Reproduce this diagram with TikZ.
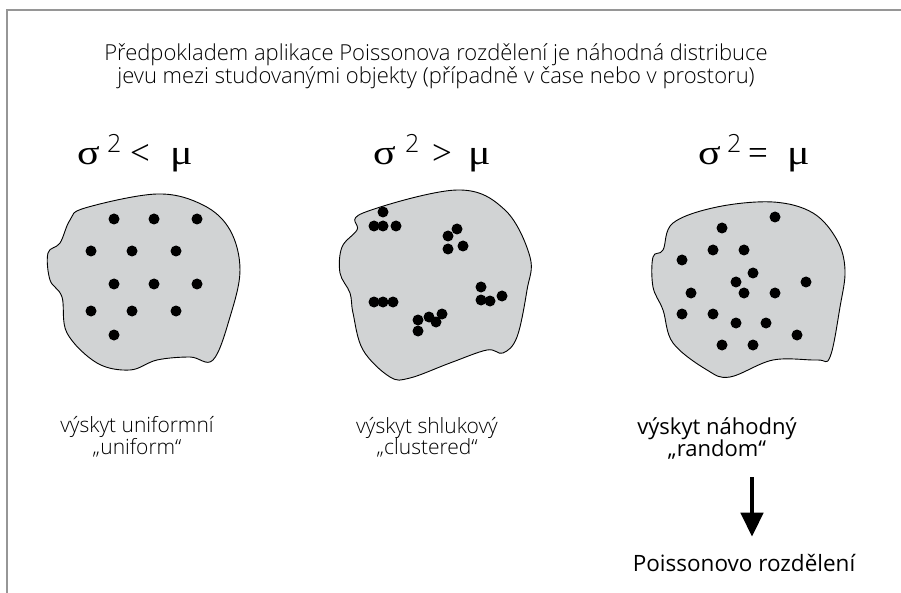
\documentclass[tikz,border=0pt]{standalone}
\usepackage{graphicx}
\usepackage{fontspec}
\setmainfont{Open Sans}
\IfFontExistsTF{Open Sans Light}{\newfontfamily\lightfont{Open Sans Light}}{\newfontfamily\lightfont{Open Sans}}
\newfontfamily\greekfont{Liberation Serif}
\usetikzlibrary{arrows.meta, positioning}
\definecolor{blobgray}{RGB}{209,211,212}
\definecolor{framegray}{RGB}{150,150,150}
\tikzset{blob/.style={fill=blobgray,draw=black,line width=0.9pt},
         dot/.style={fill=black},
         lighttext/.style={font=\lightfont\fontsize{21}{21}\selectfont,align=center},
         regtext/.style={font=\fontsize{22}{22}\selectfont,align=center},
         formula/.style={font=\greekfont\fontsize{35}{35}\selectfont,anchor=base west,inner sep=0pt}}
\newcommand{\sq}{\raisebox{12pt}{\lightfont\fontsize{25}{25}\selectfont 2}}
\newcommand{\sgm}{\scalebox{1.2}[1]{σ}}
\newcommand{\mmu}{\scalebox{1.2}[1]{μ}}

\begin{document}
\begin{tikzpicture}[x=1pt,y=-1pt]
        \useasboundingbox (0,0) rectangle (901,593);
        \draw[framegray,line width=1.2pt](901,10)--(7,10)--(7,593);

        \node[lighttext,font=\lightfont\fontsize{22}{23.5}\selectfont](head)at(436,66)
            {Předpokladem aplikace Poissonova rozdělení je náhodná distribuce\\
             jevu mezi studovanými objekty (případně v čase nebo v prostoru)};

        % formulas
        \node[formula](f1)at(77,165){\makebox[30pt][l]{\sgm}\makebox[23pt][l]{\sq}\makebox[40pt][l]{<}\mmu};
        \node[formula](f2)at(373,165){\makebox[32pt][l]{\sgm}\makebox[27pt][l]{\sq}\makebox[36pt][l]{>}\mmu};
        \node[formula](f3)at(698,165){\makebox[29pt][l]{\sgm}\makebox[21pt][l]{\sq}\makebox[39pt][l]{=}\mmu};

        % uniform
        \draw[blob] plot[smooth cycle,tension=0.6] coordinates {(85,208)(157,194)(203,205)(230,230)
            (240,270)(230,317)(213,360)(190,357)(157,360)(130,370)(97,363)(67,333)(62,297)
            (50,280)(48,253)(60,243)(70,220)};
        \foreach \x/\y in {114/219,154/219,197/219,91/251,132/251,176/251,114/284,154/284,
            197/284,91/311,132/311,176/311,114/335}
            \fill[dot](\x,\y)circle(5.5);

        % clustered
        \draw[blob] plot[smooth cycle,tension=0.6] coordinates {(363,213)(457,190)(505,210)(530,257)
            (527,290)(517,337)(503,353)(487,350)(450,363)(410,378)(390,377)(363,350)(353,313)
            (350,293)(340,273)(342,247)(357,230)};
        \foreach \x/\y in {383/212,374/226,383/226,396/226,457/229,448/236,448/249,463/246,
            374/302,383/302,393/302,481/287,481/300,490/301,502/296,418/320,418/331,429/317,
            436/322,442/314}
            \fill[dot](\x,\y)circle(5.5);

        % random
        \draw[blob] plot[smooth cycle,tension=0.6] coordinates {(673,223)(717,207)(773,202)(813,213)
            (837,240)(845,270)(840,307)(830,357)(817,360)(773,360)(730,377)(707,370)(673,343)
            (663,310)(653,287)(653,257)(663,250)};
        \foreach \x/\y in {775/217,722/228,713/250,744/250,682/260,753/273,736/282,806/282,
            691/293,744/293,775/293,682/314,713/314,736/323,766/323,797/335,722/345,753/345}
            \fill[dot](\x,\y)circle(5.5);

        \node[lighttext](uni)at(137,437){výskyt uniformní\\„uniform“};
        \node[lighttext](clu)at(427,437){výskyt shlukový\\„clustered“};
        \node[regtext](rnd)at(717,438){výskyt náhodný\\„random“};

        \node[regtext,font=\fontsize{22.5}{24}\selectfont](pois)at(744,563){Poissonovo rozdělení};
        \coordinate(a1)at(752,477);
        \draw[-{Triangle[width=22pt,length=24pt]},line width=4.5pt,shorten >=14pt](a1)--(a1|-pois.north);
    \end{tikzpicture}
\end{document}
